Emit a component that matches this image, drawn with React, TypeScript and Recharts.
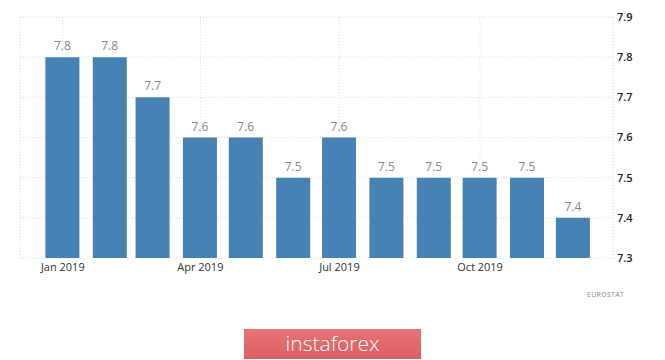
import React from 'react'
import {
  BarChart,
  Bar,
  XAxis,
  YAxis,
  CartesianGrid,
  LabelList,
} from 'recharts'

// Euro area unemployment rate, 2019 (%)
const months = ['Jan', 'Feb', 'Mar', 'Apr', 'May', 'Jun', 'Jul', 'Aug', 'Sep', 'Oct', 'Nov', 'Dec']
const dayOfYear = [0, 31, 59, 90, 120, 151, 181, 212, 243, 273, 304, 334]
const values = [7.8, 7.8, 7.7, 7.6, 7.6, 7.5, 7.6, 7.5, 7.5, 7.5, 7.5, 7.4]
const xTicks = [0, 90, 181, 273]
const xTickLabels = ['Jan 2019', 'Apr 2019', 'Jul 2019', 'Oct 2019']
const yTicks = [7.3, 7.4, 7.5, 7.6, 7.7, 7.8, 7.9]

const data = months.map((m, i) => ({ month: m, day: dayOfYear[i], value: values[i] }))

const font = '"Open Sans", "DejaVu Sans", sans-serif'

export default function App() {
  return (
    <div
      style={{
        position: 'absolute',
        top: 0,
        left: 0,
        width: 665,
        height: 360,
        background: '#fff',
        fontFamily: font,
        overflow: 'hidden',
      }}
    >
      <BarChart
        width={665}
        height={288}
        data={data}
        margin={{ top: 17, right: 0, left: 20, bottom: 0 }}
      >
        <CartesianGrid stroke="#dcdcdc" strokeDasharray="1 2" />
        <XAxis
          dataKey="day"
          type="number"
          domain={[-28, 360]}
          ticks={xTicks}
          tickFormatter={(v: number) => xTickLabels[xTicks.indexOf(v)] ?? ''}
          axisLine={false}
          tickLine={false}
          tickSize={0}
          tickMargin={5}
          height={30}
          interval={0}
          tick={{ fill: '#333', fontSize: 11, fontFamily: font }}
        />
        <YAxis
          orientation="right"
          domain={[7.3, 7.9]}
          ticks={yTicks}
          tickFormatter={(v: number) => v.toFixed(1)}
          axisLine={false}
          tickLine={false}
          tickSize={4}
          tickMargin={0}
          width={52}
          tick={{ fill: '#222', fontSize: 11, fontWeight: 600, fontFamily: font }}
        />
        <Bar dataKey="value" fill="#4682b4" barSize={34} isAnimationActive={false}>
          <LabelList
            dataKey="value"
            position="top"
            offset={7}
            formatter={(v: number) => v.toFixed(1)}
            style={{ fill: '#888', fontSize: 12, fontFamily: font }}
          />
        </Bar>
      </BarChart>
      <div
        style={{
          position: 'absolute',
          left: 587,
          top: 290,
          fontSize: 7,
          color: '#888',
          letterSpacing: 0.3,
        }}
      >
        EUROSTAT
      </div>
      <div
        style={{
          position: 'absolute',
          left: 244,
          top: 329,
          width: 177,
          height: 30,
          background: 'linear-gradient(#e87375, #d95f62)',
          color: '#fff',
          fontSize: 21,
          fontWeight: 300,
          lineHeight: '28px',
          textAlign: 'center',
          fontFamily: '"Open Sans", sans-serif',
        }}
      >
        instaforex
      </div>
    </div>
  )
}
